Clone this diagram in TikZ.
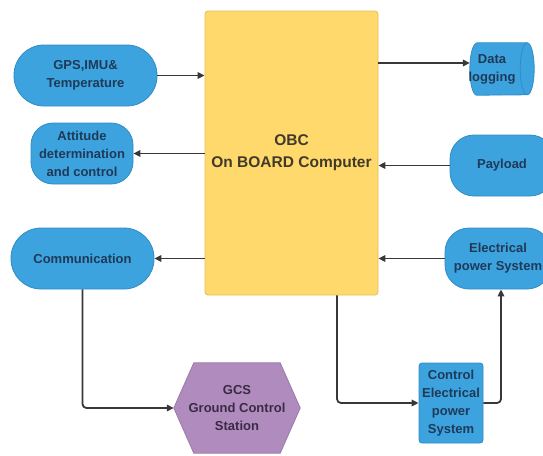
\documentclass[tikz,border=0pt]{standalone}
\usepackage{fontspec}
\setmainfont{Liberation Sans}
\usetikzlibrary{arrows.meta,backgrounds}
\definecolor{blockblue}{HTML}{3DA3DF}
\definecolor{blockblueline}{HTML}{2F8CC4}
\definecolor{bluetext}{HTML}{1E3A58}
\definecolor{obcfill}{HTML}{FFD96B}
\definecolor{obcline}{HTML}{E2BE55}
\definecolor{obctext}{HTML}{403A2A}
\definecolor{gcsfill}{HTML}{B08CBE}
\definecolor{gcsline}{HTML}{9A78A8}
\definecolor{gcstext}{HTML}{3A2A44}
\definecolor{wire}{HTML}{383838}
\tikzset{
  label font/.style={font=\fontsize{13}{18}\selectfont\bfseries},
  unit/.style={draw=blockblueline, fill=blockblue, line width=0.8pt,
    text=bluetext, label font, align=center, inner sep=0pt},
  pill/.style={unit, rounded corners=30pt},
  soft/.style={unit, rounded corners=24pt},
  arr/.style={draw=wire, line width=1.8pt, rounded corners=4pt,
    -{Triangle[length=7pt,width=6.5pt]}},
}
\begin{document}
\begin{tikzpicture}[x=1pt,y=-1pt]
\useasboundingbox (0,0) rectangle (543,455);

% central computer
\node[draw=obcline, fill=obcfill, line width=0.8pt, rounded corners=3pt,
  minimum width=173pt, minimum height=284pt, text=obctext, align=center,
  font=\fontsize{15.5}{22}\selectfont\bfseries] (obc) at (291.5,153)
  {OBC\\On BOARD Computer};

% left column
\node[pill, minimum width=143pt, minimum height=61pt] (gps) at (85.5,75.5)
  {GPS,IMU\&\\Temperature};
\node[soft, rounded corners=22pt, minimum width=102pt, minimum height=61pt] (att) at (82,153.5)
  {Attitude\\determination\\and control};
\node[pill, minimum width=143pt, minimum height=61pt] (comm) at (82.5,258.5)
  {Communication};

% right column: storage drum lying on its side
\node[minimum width=64pt, minimum height=52pt, inner sep=0pt] (dlog) at (502,69) {};
\begin{scope}[on background layer]
\filldraw[fill=blockblue, draw=blockblueline, line width=0.8pt]
  ([xshift=7pt]dlog.north west) -- ([xshift=-7pt]dlog.north east)
  arc[start angle=90, end angle=-90, x radius=7pt, y radius=26pt]
  -- ([xshift=7pt]dlog.south west)
  arc[start angle=270, end angle=90, x radius=7pt, y radius=26pt] -- cycle;
\draw[blockblueline, line width=0.8pt] ([xshift=-7pt]dlog.north east)
  arc[start angle=90, end angle=270, x radius=7pt, y radius=26pt];
\end{scope}
\node[text=bluetext, label font, align=center, inner sep=0pt] (dlogtext)
  at ([xshift=-10pt]dlog.center) {Data\\logging};

\node[soft, minimum width=104pt, minimum height=61pt] (pay) at (502,165.5)
  {Payload};
\node[soft, minimum width=106pt, minimum height=61pt] (eps) at (498,258.5)
  {Electrical\\power System};
\node[unit, rounded corners=3pt, minimum width=64pt, minimum height=80pt]
  (ceps) at (451,403) {Control\\Electrical\\power\\System};

% ground station hexagon
\node[minimum width=126pt, minimum height=90pt, inner sep=0pt, align=center,
  text=gcstext, label font] (gcs) at (237,408)
  {GCS\\Ground Control\\Station};
\begin{scope}[on background layer]
\fill[gcsfill, draw=gcsline, line width=0.8pt]
  (gcs.west) -- ([xshift=20pt]gcs.north west) -- ([xshift=-20pt]gcs.north east)
  -- (gcs.east) -- ([xshift=-20pt]gcs.south east) -- ([xshift=20pt]gcs.south west)
  -- cycle;
\end{scope}

% connectors
\coordinate (dlogin) at ([yshift=6pt]dlog.west);
\draw[arr] (gps.east) -- (gps.east -| obc.west);
\draw[arr] (att.east -| obc.west) -- (att.east);
\draw[arr] (comm.east -| obc.west) -- (comm.east);
\draw[arr] (dlogin -| obc.east) -- (dlogin);
\draw[arr] (pay.west) -- (pay.west -| obc.east);
\draw[arr] (eps.west) -- (eps.west -| obc.east);
\draw[arr] ([xshift=45.5pt]obc.south) |- (ceps.west);
\draw[arr] (ceps.east) -| ([xshift=3pt]eps.south);
\draw[arr] (comm.south) |- (gcs.west);
\end{tikzpicture}
\end{document}
